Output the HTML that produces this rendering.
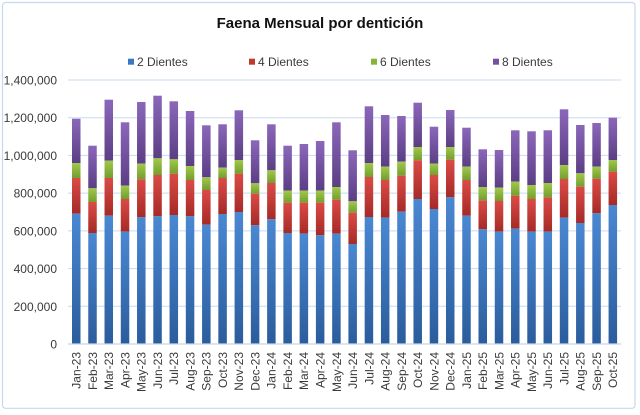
<!DOCTYPE html>
<html><head><meta charset="utf-8"><style>
html,body{margin:0;padding:0;background:#fff;}
svg{display:block;}
text{font-family:"Liberation Sans",Arial,sans-serif;}
</style></head><body>
<svg width="640" height="415" viewBox="0 0 640 415" xmlns="http://www.w3.org/2000/svg">
<defs>
<linearGradient id="gb" x1="0" y1="0" x2="0" y2="1"><stop offset="0" stop-color="#4a88d2"/><stop offset="1" stop-color="#2b5c9c"/></linearGradient>
<linearGradient id="gr" x1="0" y1="0" x2="0" y2="1"><stop offset="0" stop-color="#db4b46"/><stop offset="1" stop-color="#a52a27"/></linearGradient>
<linearGradient id="gg" x1="0" y1="0" x2="0" y2="1"><stop offset="0" stop-color="#a0c84c"/><stop offset="1" stop-color="#739e2e"/></linearGradient>
<linearGradient id="gp" x1="0" y1="0" x2="0" y2="1"><stop offset="0" stop-color="#8b67ba"/><stop offset="1" stop-color="#5b3e84"/></linearGradient>
</defs>
<rect x="0" y="0" width="640" height="415" fill="#fff"/>
<rect x="2.5" y="2.5" width="632.5" height="405.8" rx="3" fill="#fff" stroke="#c6d8ef" stroke-width="1.2"/>
<text x="320" y="28" text-anchor="middle" font-size="15" font-weight="bold" fill="#111">Faena Mensual por dentición</text>
<g font-size="12" fill="#3a3a3a">
<rect x="128" y="58.7" width="6" height="6" fill="#3b76c0"/><text x="137" y="66">2 Dientes</text>
<rect x="249" y="58.7" width="6" height="6" fill="#c0392f"/><text x="258" y="66">4 Dientes</text>
<rect x="371" y="58.7" width="6" height="6" fill="#8ab33c"/><text x="380" y="66">6 Dientes</text>
<rect x="493" y="58.7" width="6" height="6" fill="#7450a0"/><text x="502" y="66">8 Dientes</text>
</g>
<g stroke="#c8daf0" stroke-width="1">
<line x1="68" x2="621" y1="80" y2="80"/>
<line x1="68" x2="621" y1="117.7" y2="117.7"/>
<line x1="68" x2="621" y1="155.4" y2="155.4"/>
<line x1="68" x2="621" y1="193.1" y2="193.1"/>
<line x1="68" x2="621" y1="230.9" y2="230.9"/>
<line x1="68" x2="621" y1="268.6" y2="268.6"/>
<line x1="68" x2="621" y1="306.3" y2="306.3"/>
</g>
<g font-size="12" fill="#3a3a3a" text-anchor="end">
<text x="57" y="84.5">1,400,000</text>
<text x="57" y="122.2">1,200,000</text>
<text x="57" y="159.9">1,000,000</text>
<text x="57" y="197.6">800,000</text>
<text x="57" y="235.4">600,000</text>
<text x="57" y="273.1">400,000</text>
<text x="57" y="310.8">200,000</text>
<text x="57" y="348.5">0</text>
</g>
<g>
<g transform="translate(72,0)"><rect y="118.7" width="8.5" height="44.3" fill="url(#gp)"/><rect y="163" width="8.5" height="15" fill="url(#gg)"/><rect y="178" width="8.5" height="35.7" fill="url(#gr)"/><rect y="213.7" width="8.5" height="130.3" fill="url(#gb)"/></g>
<g transform="translate(88.26,0)"><rect y="145.7" width="8.5" height="42.6" fill="url(#gp)"/><rect y="188.3" width="8.5" height="13.7" fill="url(#gg)"/><rect y="202" width="8.5" height="31" fill="url(#gr)"/><rect y="233" width="8.5" height="111" fill="url(#gb)"/></g>
<g transform="translate(104.52,0)"><rect y="99.7" width="8.5" height="61" fill="url(#gp)"/><rect y="160.7" width="8.5" height="17.3" fill="url(#gg)"/><rect y="178" width="8.5" height="37.7" fill="url(#gr)"/><rect y="215.7" width="8.5" height="128.3" fill="url(#gb)"/></g>
<g transform="translate(120.78,0)"><rect y="122.3" width="8.5" height="63.4" fill="url(#gp)"/><rect y="185.7" width="8.5" height="13.3" fill="url(#gg)"/><rect y="199" width="8.5" height="32.7" fill="url(#gr)"/><rect y="231.7" width="8.5" height="112.3" fill="url(#gb)"/></g>
<g transform="translate(137.04,0)"><rect y="102" width="8.5" height="61.7" fill="url(#gp)"/><rect y="163.7" width="8.5" height="15.6" fill="url(#gg)"/><rect y="179.3" width="8.5" height="38" fill="url(#gr)"/><rect y="217.3" width="8.5" height="126.7" fill="url(#gb)"/></g>
<g transform="translate(153.3,0)"><rect y="95.7" width="8.5" height="62.6" fill="url(#gp)"/><rect y="158.3" width="8.5" height="16.7" fill="url(#gg)"/><rect y="175" width="8.5" height="41.3" fill="url(#gr)"/><rect y="216.3" width="8.5" height="127.7" fill="url(#gb)"/></g>
<g transform="translate(169.56,0)"><rect y="101.3" width="8.5" height="58" fill="url(#gp)"/><rect y="159.3" width="8.5" height="14.4" fill="url(#gg)"/><rect y="173.7" width="8.5" height="41.3" fill="url(#gr)"/><rect y="215" width="8.5" height="129" fill="url(#gb)"/></g>
<g transform="translate(185.82,0)"><rect y="111" width="8.5" height="55" fill="url(#gp)"/><rect y="166" width="8.5" height="14" fill="url(#gg)"/><rect y="180" width="8.5" height="36.3" fill="url(#gr)"/><rect y="216.3" width="8.5" height="127.7" fill="url(#gb)"/></g>
<g transform="translate(202.08,0)"><rect y="125.3" width="8.5" height="52" fill="url(#gp)"/><rect y="177.3" width="8.5" height="12.7" fill="url(#gg)"/><rect y="190" width="8.5" height="34.7" fill="url(#gr)"/><rect y="224.7" width="8.5" height="119.3" fill="url(#gb)"/></g>
<g transform="translate(218.34,0)"><rect y="124.3" width="8.5" height="43.4" fill="url(#gp)"/><rect y="167.7" width="8.5" height="10.3" fill="url(#gg)"/><rect y="178" width="8.5" height="36" fill="url(#gr)"/><rect y="214" width="8.5" height="130" fill="url(#gb)"/></g>
<g transform="translate(234.6,0)"><rect y="110.3" width="8.5" height="49.7" fill="url(#gp)"/><rect y="160" width="8.5" height="13.7" fill="url(#gg)"/><rect y="173.7" width="8.5" height="38.3" fill="url(#gr)"/><rect y="212" width="8.5" height="132" fill="url(#gb)"/></g>
<g transform="translate(250.86,0)"><rect y="140.3" width="8.5" height="43" fill="url(#gp)"/><rect y="183.3" width="8.5" height="10.4" fill="url(#gg)"/><rect y="193.7" width="8.5" height="31.6" fill="url(#gr)"/><rect y="225.3" width="8.5" height="118.7" fill="url(#gb)"/></g>
<g transform="translate(267.12,0)"><rect y="124.3" width="8.5" height="46" fill="url(#gp)"/><rect y="170.3" width="8.5" height="12.7" fill="url(#gg)"/><rect y="183" width="8.5" height="36.3" fill="url(#gr)"/><rect y="219.3" width="8.5" height="124.7" fill="url(#gb)"/></g>
<g transform="translate(283.38,0)"><rect y="145.7" width="8.5" height="45" fill="url(#gp)"/><rect y="190.7" width="8.5" height="12" fill="url(#gg)"/><rect y="202.7" width="8.5" height="30.3" fill="url(#gr)"/><rect y="233" width="8.5" height="111" fill="url(#gb)"/></g>
<g transform="translate(299.64,0)"><rect y="144" width="8.5" height="46.7" fill="url(#gp)"/><rect y="190.7" width="8.5" height="12" fill="url(#gg)"/><rect y="202.7" width="8.5" height="31" fill="url(#gr)"/><rect y="233.7" width="8.5" height="110.3" fill="url(#gb)"/></g>
<g transform="translate(315.9,0)"><rect y="141" width="8.5" height="49.7" fill="url(#gp)"/><rect y="190.7" width="8.5" height="12" fill="url(#gg)"/><rect y="202.7" width="8.5" height="32.6" fill="url(#gr)"/><rect y="235.3" width="8.5" height="108.7" fill="url(#gb)"/></g>
<g transform="translate(332.16,0)"><rect y="122.3" width="8.5" height="64.7" fill="url(#gp)"/><rect y="187" width="8.5" height="12.7" fill="url(#gg)"/><rect y="199.7" width="8.5" height="34" fill="url(#gr)"/><rect y="233.7" width="8.5" height="110.3" fill="url(#gb)"/></g>
<g transform="translate(348.42,0)"><rect y="150.3" width="8.5" height="51" fill="url(#gp)"/><rect y="201.3" width="8.5" height="11.4" fill="url(#gg)"/><rect y="212.7" width="8.5" height="31.3" fill="url(#gr)"/><rect y="244" width="8.5" height="100" fill="url(#gb)"/></g>
<g transform="translate(364.68,0)"><rect y="106.3" width="8.5" height="56.7" fill="url(#gp)"/><rect y="163" width="8.5" height="14" fill="url(#gg)"/><rect y="177" width="8.5" height="40" fill="url(#gr)"/><rect y="217" width="8.5" height="127" fill="url(#gb)"/></g>
<g transform="translate(380.94,0)"><rect y="115" width="8.5" height="51.7" fill="url(#gp)"/><rect y="166.7" width="8.5" height="13.3" fill="url(#gg)"/><rect y="180" width="8.5" height="37.7" fill="url(#gr)"/><rect y="217.7" width="8.5" height="126.3" fill="url(#gb)"/></g>
<g transform="translate(397.2,0)"><rect y="116" width="8.5" height="45.7" fill="url(#gp)"/><rect y="161.7" width="8.5" height="14" fill="url(#gg)"/><rect y="175.7" width="8.5" height="36" fill="url(#gr)"/><rect y="211.7" width="8.5" height="132.3" fill="url(#gb)"/></g>
<g transform="translate(413.46,0)"><rect y="102.7" width="8.5" height="44.3" fill="url(#gp)"/><rect y="147" width="8.5" height="13.3" fill="url(#gg)"/><rect y="160.3" width="8.5" height="38.7" fill="url(#gr)"/><rect y="199" width="8.5" height="145" fill="url(#gb)"/></g>
<g transform="translate(429.72,0)"><rect y="126.7" width="8.5" height="37" fill="url(#gp)"/><rect y="163.7" width="8.5" height="11.3" fill="url(#gg)"/><rect y="175" width="8.5" height="34" fill="url(#gr)"/><rect y="209" width="8.5" height="135" fill="url(#gb)"/></g>
<g transform="translate(445.98,0)"><rect y="110" width="8.5" height="37" fill="url(#gp)"/><rect y="147" width="8.5" height="12.7" fill="url(#gg)"/><rect y="159.7" width="8.5" height="37.6" fill="url(#gr)"/><rect y="197.3" width="8.5" height="146.7" fill="url(#gb)"/></g>
<g transform="translate(462.24,0)"><rect y="127.7" width="8.5" height="39" fill="url(#gp)"/><rect y="166.7" width="8.5" height="13.3" fill="url(#gg)"/><rect y="180" width="8.5" height="35.7" fill="url(#gr)"/><rect y="215.7" width="8.5" height="128.3" fill="url(#gb)"/></g>
<g transform="translate(478.5,0)"><rect y="149.3" width="8.5" height="37.7" fill="url(#gp)"/><rect y="187" width="8.5" height="13.3" fill="url(#gg)"/><rect y="200.3" width="8.5" height="29" fill="url(#gr)"/><rect y="229.3" width="8.5" height="114.7" fill="url(#gb)"/></g>
<g transform="translate(494.76,0)"><rect y="150" width="8.5" height="37.7" fill="url(#gp)"/><rect y="187.7" width="8.5" height="13.3" fill="url(#gg)"/><rect y="201" width="8.5" height="30.7" fill="url(#gr)"/><rect y="231.7" width="8.5" height="112.3" fill="url(#gb)"/></g>
<g transform="translate(511.02,0)"><rect y="130.3" width="8.5" height="51.4" fill="url(#gp)"/><rect y="181.7" width="8.5" height="14" fill="url(#gg)"/><rect y="195.7" width="8.5" height="33" fill="url(#gr)"/><rect y="228.7" width="8.5" height="115.3" fill="url(#gb)"/></g>
<g transform="translate(527.28,0)"><rect y="131.3" width="8.5" height="53.7" fill="url(#gp)"/><rect y="185" width="8.5" height="14" fill="url(#gg)"/><rect y="199" width="8.5" height="32.7" fill="url(#gr)"/><rect y="231.7" width="8.5" height="112.3" fill="url(#gb)"/></g>
<g transform="translate(543.54,0)"><rect y="130.3" width="8.5" height="52.7" fill="url(#gp)"/><rect y="183" width="8.5" height="14.3" fill="url(#gg)"/><rect y="197.3" width="8.5" height="34.4" fill="url(#gr)"/><rect y="231.7" width="8.5" height="112.3" fill="url(#gb)"/></g>
<g transform="translate(559.8,0)"><rect y="109.3" width="8.5" height="55.7" fill="url(#gp)"/><rect y="165" width="8.5" height="14" fill="url(#gg)"/><rect y="179" width="8.5" height="38.7" fill="url(#gr)"/><rect y="217.7" width="8.5" height="126.3" fill="url(#gb)"/></g>
<g transform="translate(576.06,0)"><rect y="125" width="8.5" height="48.3" fill="url(#gp)"/><rect y="173.3" width="8.5" height="13.4" fill="url(#gg)"/><rect y="186.7" width="8.5" height="36.3" fill="url(#gr)"/><rect y="223" width="8.5" height="121" fill="url(#gb)"/></g>
<g transform="translate(592.32,0)"><rect y="123" width="8.5" height="43.7" fill="url(#gp)"/><rect y="166.7" width="8.5" height="12" fill="url(#gg)"/><rect y="178.7" width="8.5" height="34.6" fill="url(#gr)"/><rect y="213.3" width="8.5" height="130.7" fill="url(#gb)"/></g>
<g transform="translate(608.58,0)"><rect y="117.7" width="8.5" height="42.3" fill="url(#gp)"/><rect y="160" width="8.5" height="11.7" fill="url(#gg)"/><rect y="171.7" width="8.5" height="33.3" fill="url(#gr)"/><rect y="205" width="8.5" height="139" fill="url(#gb)"/></g>
</g>
<line x1="68" x2="621" y1="344" y2="344" stroke="#c2d5ee" stroke-width="1.3"/>
<g font-size="12" fill="#3a3a3a" text-anchor="end">
<text transform="translate(80.6,352) rotate(-90)">Jan-23</text>
<text transform="translate(96.9,352) rotate(-90)">Feb-23</text>
<text transform="translate(113.1,352) rotate(-90)">Mar-23</text>
<text transform="translate(129.4,352) rotate(-90)">Apr-23</text>
<text transform="translate(145.6,352) rotate(-90)">May-23</text>
<text transform="translate(161.9,352) rotate(-90)">Jun-23</text>
<text transform="translate(178.2,352) rotate(-90)">Jul-23</text>
<text transform="translate(194.4,352) rotate(-90)">Aug-23</text>
<text transform="translate(210.7,352) rotate(-90)">Sep-23</text>
<text transform="translate(226.9,352) rotate(-90)">Oct-23</text>
<text transform="translate(243.2,352) rotate(-90)">Nov-23</text>
<text transform="translate(259.5,352) rotate(-90)">Dec-23</text>
<text transform="translate(275.7,352) rotate(-90)">Jan-24</text>
<text transform="translate(292.0,352) rotate(-90)">Feb-24</text>
<text transform="translate(308.2,352) rotate(-90)">Mar-24</text>
<text transform="translate(324.5,352) rotate(-90)">Apr-24</text>
<text transform="translate(340.8,352) rotate(-90)">May-24</text>
<text transform="translate(357.0,352) rotate(-90)">Jun-24</text>
<text transform="translate(373.3,352) rotate(-90)">Jul-24</text>
<text transform="translate(389.5,352) rotate(-90)">Aug-24</text>
<text transform="translate(405.8,352) rotate(-90)">Sep-24</text>
<text transform="translate(422.1,352) rotate(-90)">Oct-24</text>
<text transform="translate(438.3,352) rotate(-90)">Nov-24</text>
<text transform="translate(454.6,352) rotate(-90)">Dec-24</text>
<text transform="translate(470.8,352) rotate(-90)">Jan-25</text>
<text transform="translate(487.1,352) rotate(-90)">Feb-25</text>
<text transform="translate(503.4,352) rotate(-90)">Mar-25</text>
<text transform="translate(519.6,352) rotate(-90)">Apr-25</text>
<text transform="translate(535.9,352) rotate(-90)">May-25</text>
<text transform="translate(552.1,352) rotate(-90)">Jun-25</text>
<text transform="translate(568.4,352) rotate(-90)">Jul-25</text>
<text transform="translate(584.7,352) rotate(-90)">Aug-25</text>
<text transform="translate(600.9,352) rotate(-90)">Sep-25</text>
<text transform="translate(617.2,352) rotate(-90)">Oct-25</text>
</g>
</svg>
</body></html>
